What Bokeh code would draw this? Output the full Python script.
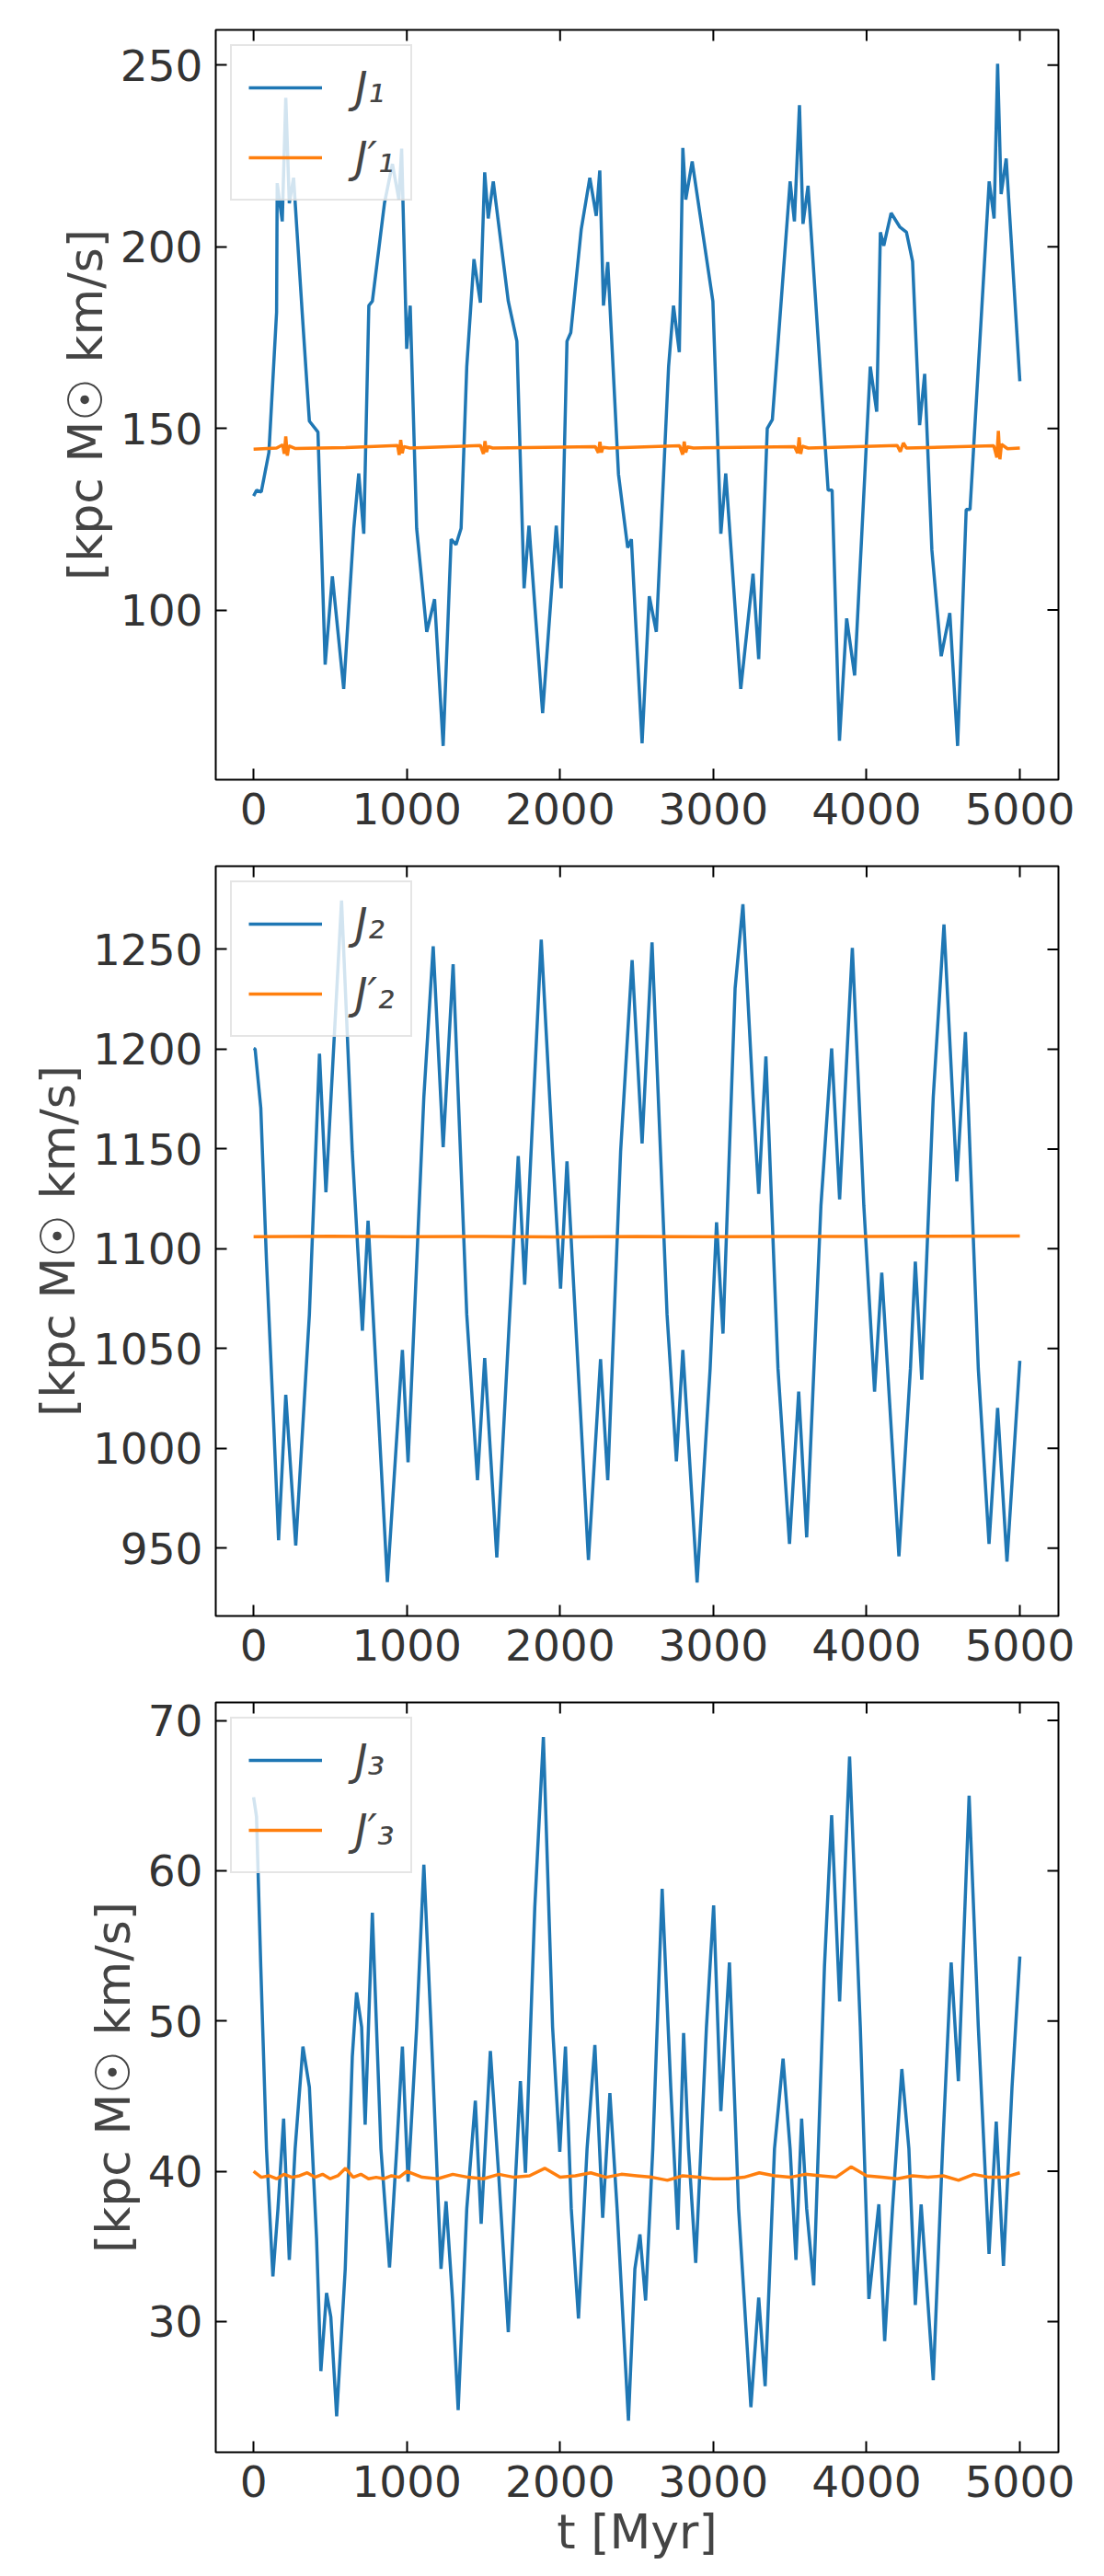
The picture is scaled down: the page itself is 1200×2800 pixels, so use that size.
import math
from bokeh.plotting import figure
from bokeh.layouts import column
from bokeh.models import Range1d, FixedTicker, Legend, LegendItem
from bokeh.embed import file_html
from bokeh.resources import INLINE

BLUE = "#1f77b4"
ORANGE = "#ff7f0e"

t1 = [0,20,50,100,150,154,187,210,233,261,317,364,420,467,514,588,654,686,719,752,775,854,906,948,966,999,1022,1064,1130,1181,1237,1289,1321,1354,1391,1438,1480,1508,1531,1564,1662,1718,1765,1797,1886,1975,2007,2045,2070,2138,2194,2236,2259,2283,2311,2381,2441,2465,2535,2582,2628,2708,2740,2778,2801,2820,2862,2997,3049,3081,3179,3259,3296,3352,3385,3501,3529,3562,3585,3618,3749,3775,3823,3870,3922,4024,4066,4090,4112,4160,4216,4260,4300,4346,4379,4426,4487,4543,4594,4650,4675,4800,4832,4855,4878,4911,5000]
j1 = [131.4,133,132.5,143.4,182,217.5,207,241,212,219,182,152,149,85,109.3,78.3,122.5,137.6,121,183.8,185,212,222.8,213,227,171.9,183.8,122.5,94,103,62.6,119.5,118,122.5,167,196.6,184.6,220.5,207.8,218,185,174,106,123.2,71.6,123.2,106,174,176.4,204.8,219,208.5,221,183.8,195.8,137.4,117.2,119.5,63.3,103.8,94,167,183.8,171,227.2,213,223.5,185,121,137.6,78.3,110,86.5,150,152.4,218,207,239,206.3,216.8,133,133,64,97.7,82,167,154.6,204,200.3,209.3,205.5,204,196,150.9,165,116.5,87.3,99.2,62.6,127.7,127.7,218,207.8,250.4,214.5,224.3,163]

t1p = [0,150,190,200,210,220,230,270,600,940,950,960,970,980,1020,1480,1500,1510,1520,1530,1560,2230,2250,2260,2270,2280,2320,2780,2800,2810,2820,2830,2870,3530,3550,3560,3570,3580,3620,4200,4220,4240,4260,4830,4850,4860,4870,4880,4920,5000]
j1p = [144.3,144.6,145.5,143,147.8,142.5,145.2,144.5,144.7,145.3,142.7,146.8,143.2,145,144.6,145.3,143,146.5,143.5,145,144.6,145,143.3,146.3,143.4,144.8,144.6,145.2,142.8,146.4,143.4,144.9,144.6,145,143.2,147.5,143,145.1,144.6,145.3,143.6,146,144.6,145.2,142,149.3,141.5,145.6,144.4,144.6]

t2 = [0,10,47,84,131,163,210,275,364,430,472,574,644,710,747,873,971,1008,1111,1172,1237,1302,1391,1461,1508,1587,1671,1727,1769,1877,1951,2003,2045,2185,2264,2311,2395,2470,2535,2600,2698,2759,2801,2894,2979,3021,3063,3142,3193,3259,3296,3343,3422,3497,3557,3609,3702,3772,3824,3907,3982,4052,4099,4211,4286,4318,4360,4435,4505,4589,4645,4729,4799,4855,4916,5000]
j2 = [1200.4,1200,1170.5,1094,1012.6,954,1026.8,951.3,1067,1197.7,1128.3,1274.5,1148.7,1059,1114.1,933,1049.3,993,1176,1251.6,1150.9,1242.6,1067,984,1045.3,945.3,1067,1146.5,1082,1254.9,1148.7,1080,1143.8,944,1044.7,984,1148.7,1244.6,1152.8,1253.5,1067,993.5,1049.3,932.8,1039.8,1113.3,1057.5,1230.4,1272.6,1176,1127.5,1196.4,1039.8,952.1,1028.4,955.4,1121.5,1200.4,1124.8,1250.8,1121.5,1028.4,1088,945.9,1039.8,1093.5,1034.4,1176,1262.5,1133.7,1208.6,1039.8,952.1,1020.2,943.2,1043.9]

t2p = [0,500,1000,1500,2000,2500,3000,3500,4000,4500,5000]
j2p = [1106,1106.3,1106,1106.2,1105.9,1106.2,1106,1106.1,1106.2,1106.3,1106.4]

t3 = [0,19,47,84,126,159,196,233,271,322,364,411,439,476,504,542,598,644,672,705,728,775,831,887,934,971,1008,1064,1111,1158,1223,1256,1298,1335,1391,1447,1485,1545,1601,1662,1709,1741,1774,1835,1891,1951,1998,2035,2073,2120,2176,2227,2278,2325,2372,2446,2488,2521,2558,2605,2666,2722,2768,2806,2838,2885,2955,3002,3049,3105,3165,3245,3296,3338,3399,3455,3501,3539,3576,3609,3655,3725,3772,3824,3889,3959,4015,4080,4118,4169,4230,4276,4318,4356,4435,4496,4552,4599,4669,4729,4799,4846,4893,4949,5000]
j3 = [64.9,63.6,53.6,41.5,33,37.5,43.5,34.1,41.5,48.3,45.6,35.5,26.7,31.9,30.3,23.7,33.5,47.6,51.9,49.6,43.1,57.2,41.5,33.6,41.5,48.3,39.3,49.6,60.4,49.6,33.5,38,31.5,24.1,37.5,44.7,36.5,48,39.5,29.3,39.5,46,39.9,57.6,68.9,49.6,41.3,48.3,37.5,30.2,41.5,48.4,36.9,45.2,37.5,23.4,33.5,35.8,31.4,41.5,58.8,45.6,36.1,49.2,41.5,33.9,49.6,57.7,44,53.9,37.5,24.3,31.6,25.7,41.5,47.5,41.5,34.1,43.5,37.5,32.4,53.6,63.7,51.3,67.6,49.6,31.5,37.8,28.7,37.5,46.8,41.5,31.1,37.8,26.1,41.5,53.9,46,65,49.6,34.5,43.3,33.7,45.6,54.3]

t3p = [0,50,100,150,200,250,300,350,400,450,500,550,600,650,700,750,800,850,900,950,1000,1100,1200,1300,1400,1500,1600,1700,1800,1900,2000,2100,2200,2300,2400,2500,2600,2700,2800,2900,3000,3100,3200,3300,3400,3500,3600,3700,3800,3900,4000,4100,4200,4300,4400,4500,4600,4700,4800,4900,5000]
j3p = [40.0,39.6,39.7,39.5,39.8,39.6,39.7,39.9,39.6,39.8,39.5,39.7,40.2,39.6,39.8,39.5,39.6,39.5,39.7,39.6,40.0,39.6,39.5,39.8,39.6,39.5,39.8,39.6,39.7,40.2,39.6,39.7,39.9,39.6,39.8,39.7,39.6,39.4,39.7,39.6,39.5,39.5,39.6,39.9,39.7,39.6,39.8,39.7,39.6,40.3,39.7,39.6,39.5,39.7,39.6,39.7,39.4,39.8,39.6,39.6,39.9]

XTICKS = [0, 1000, 2000, 3000, 4000, 5000]
XR = (-247, 5252)

panels = [
    (t1, j1, t1p, j1p, (53.3, 259.7), [100, 150, 200, 250], "J\u2081", "J\u2032\u2081", False),
    (t2, j2, t2p, j2p, (916, 1291.7), [950, 1000, 1050, 1100, 1150, 1200, 1250], "J\u2082", "J\u2032\u2082", False),
    (t3, j3, t3p, j3p, (21.3, 71.2), [30, 40, 50, 60, 70], "J\u2083", "J\u2032\u2083", True),
]

FONT = "DejaVu Sans"
figs = []
for (tx, jy, tpx, jpy, yr, yt, lab, labp, last) in panels:
    h = 990 if last else 909
    p = figure(width=1180, height=h, output_backend="svg", toolbar_location=None,
               x_range=Range1d(*XR), y_range=Range1d(*yr),
               min_border_left=234, min_border_right=30, min_border_top=32,
               min_border_bottom=(h - 32 - 815))
    p.grid.visible = False
    p.outline_line_color = "black"
    p.outline_line_width = 2
    r1 = p.line(tx, jy, color=BLUE, line_width=3.5)
    r2 = p.line(tpx, jpy, color=ORANGE, line_width=3.5)
    # mirrored inward ticks on top and right edges
    p.scatter(XTICKS, [yr[1]] * len(XTICKS), marker="dash", angle=math.pi / 2,
              size=24, line_color="black", line_width=2)
    p.scatter([XR[1]] * len(yt), yt, marker="dash", size=24, line_color="black", line_width=2)
    p.xaxis.ticker = FixedTicker(ticks=XTICKS)
    p.yaxis.ticker = FixedTicker(ticks=yt)
    for ax in (p.xaxis[0], p.yaxis[0]):
        ax.major_tick_in = 12
        ax.major_tick_out = 0
        ax.minor_tick_line_color = None
        ax.axis_line_color = None
        ax.major_label_text_font = FONT
        ax.major_label_text_font_size = "47px"
        ax.major_label_text_color = "#333333"
        ax.major_label_standoff = 14
        ax.major_tick_line_width = 2
    p.yaxis.axis_label = "[kpc M\u2609 km/s]"
    p.yaxis.axis_label_text_font = FONT
    p.yaxis.axis_label_text_font_size = "52px"
    p.yaxis.axis_label_text_font_style = "normal"
    if last:
        p.xaxis.axis_label = "t [Myr]"
        p.xaxis.axis_label_text_font = FONT
        p.xaxis.axis_label_text_font_size = "52px"
        p.xaxis.axis_label_text_font_style = "normal"
    leg = Legend(items=[LegendItem(label=lab, renderers=[r1]), LegendItem(label=labp, renderers=[r2])],
                 location="top_left")
    leg.label_text_font = FONT
    leg.label_text_font_style = "italic"
    leg.label_text_font_size = "46px"
    leg.glyph_width = 80
    leg.glyph_height = 46
    leg.label_standoff = 36
    leg.spacing = 22
    leg.padding = 18
    leg.margin = 16
    leg.border_line_color = "#cccccc"
    leg.border_line_width = 2
    leg.background_fill_alpha = 0.8
    p.add_layout(leg)
    figs.append(p)

layout = column(*figs, spacing=0)
open("out.html", "w").write(file_html(layout, INLINE))
